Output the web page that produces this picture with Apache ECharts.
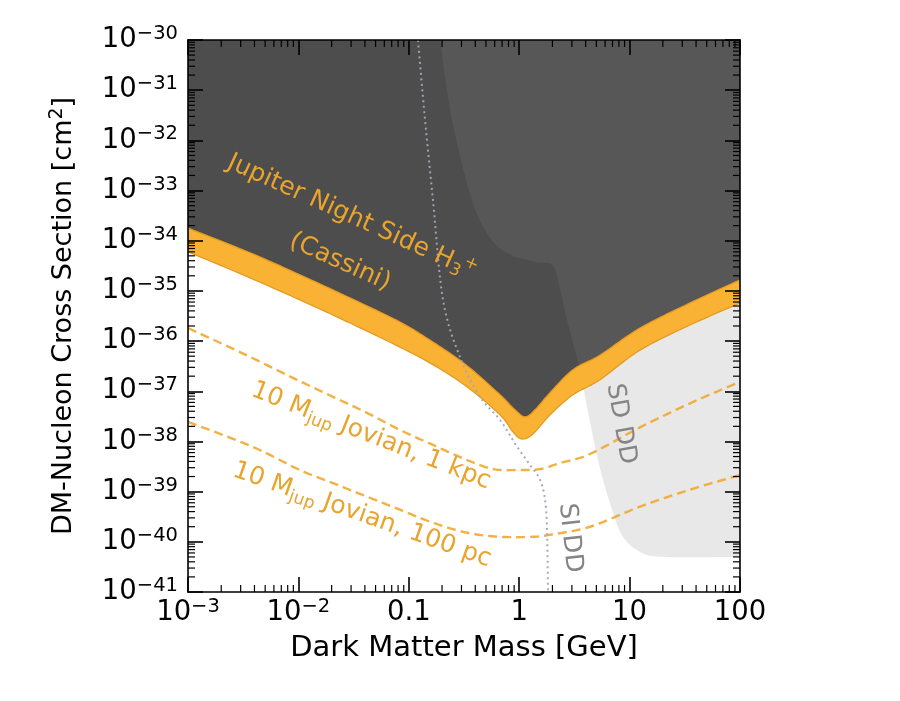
<!DOCTYPE html>
<html>
<head>
<meta charset="utf-8">
<script src="https://cdn.jsdelivr.net/npm/echarts@6/dist/echarts.min.js"></script>
<style>
html,body{margin:0;padding:0;background:#ffffff;}
#chart{width:900px;height:701px;}
</style>
</head>
<body>
<div id="chart"></div>
<script>
// ---- Data (log10 of dark matter mass [GeV], log10 of cross section [cm^2]) ----
const xTickValues = [-3, -2, -1, 0, 1, 2];
const xTickLabels = ['{b|10}{s|−3}', '{b|10}{s|−2}', '{b|0.1}', '{b|1}', '{b|10}', '{b|100}'];
const yTickValues = [-41, -40, -39, -38, -37, -36, -35, -34, -33, -32, -31, -30];
const yTickLabels = ['{b|10}{s|−41}', '{b|10}{s|−40}', '{b|10}{s|−39}', '{b|10}{s|−38}', '{b|10}{s|−37}', '{b|10}{s|−36}',
                     '{b|10}{s|−35}', '{b|10}{s|−34}', '{b|10}{s|−33}', '{b|10}{s|−32}', '{b|10}{s|−31}', '{b|10}{s|−30}'];
const minorFactors = [2, 3, 4, 5, 6, 7, 8, 9];

// Jupiter night side H3+ (Cassini) band: upper and lower edges
const jupUpperLogM = [-3.000, -2.438, -1.986, -1.533, -1.080, -0.781, -0.473, -0.174, -0.038, 0.053, 0.143, 0.279, 0.487, 0.732, 1.094, 1.547, 2.000];
const jupUpperLogS = [-33.75, -34.24, -34.68, -35.14, -35.62, -36.02, -36.49, -37.07, -37.37, -37.51, -37.37, -37.03, -36.57, -36.28, -35.74, -35.24, -34.78];
const jupLowerLogM = [-3.000, -2.438, -1.986, -1.533, -1.080, -0.781, -0.473, -0.174, -0.056, 0.025, 0.125, 0.279, 0.487, 0.732, 1.094, 1.547, 2.000];
const jupLowerLogS = [-34.22, -34.74, -35.18, -35.64, -36.12, -36.47, -36.91, -37.47, -37.81, -37.95, -37.85, -37.47, -37.07, -36.77, -36.18, -35.68, -35.24];

// 10 M_jup Jovian, 1 kpc (dashed)
const kpcLogM = [-3.000, -2.500, -1.986, -1.687, -1.379, -1.080, -0.781, -0.473, -0.237, -0.020, 0.188, 0.370, 0.641, 1.094, 1.547, 2.000];
const kpcLogS = [-35.74, -36.25, -36.80, -37.11, -37.43, -37.77, -38.07, -38.37, -38.55, -38.57, -38.55, -38.43, -38.25, -37.72, -37.24, -36.81];

// 10 M_jup Jovian, 100 pc (dashed)
const pcLogM = [-3.000, -2.411, -1.986, -1.687, -1.379, -1.080, -0.781, -0.473, -0.174, 0.125, 0.279, 0.641, 1.094, 1.547, 2.000];
const pcLogS = [-37.61, -38.11, -38.57, -38.83, -39.10, -39.36, -39.62, -39.82, -39.90, -39.90, -39.86, -39.70, -39.30, -38.96, -38.67];

// SI direct detection (dotted)
const siLogM = [-0.917, -0.853, -0.781, -0.690, -0.536, -0.355, -0.174, -0.029, 0.098, 0.188, 0.234, 0.252, 0.261];
const siLogS = [-30.00, -31.59, -33.19, -35.18, -36.32, -37.11, -37.57, -38.07, -38.47, -38.76, -39.16, -39.76, -41.00];

// SD direct detection region boundary
const sdLogM = [-0.717, -0.609, -0.428, -0.264, -0.083, 0.143, 0.306, 0.370, 0.433, 0.505, 0.578, 0.714, 0.841, 0.940, 1.094, 1.303, 2.000];
const sdLogS = [-30.00, -31.59, -33.19, -33.94, -34.28, -34.42, -34.50, -34.98, -35.58, -36.18, -36.91, -38.37, -39.36, -39.90, -40.20, -40.30, -40.30];

// ---- Styling ----
const FONT = 'DejaVu Sans';
const X_MIN = -3, X_MAX = 2, Y_MIN = -41, Y_MAX = -30;
const DARK = '#4d4d4d';
const SD_FILL = 'rgba(133,133,133,0.19)';
const BAND = '#f9b233';
const BAND_EDGE = '#e59a1f';
const DASH = 'rgba(240,168,48,0.9)';
const ORANGE_TEXT = '#e9a42e';
const GRAY_TEXT = '#858585';

function pairs(ms, ss) { return ms.map((m, i) => [m, ss[i]]); }

// Catmull-Rom smoothing in pixel space (rendering only)
function spline(pts, n) {
  const out = [];
  for (let i = 0; i < pts.length - 1; i++) {
    const p0 = pts[i - 1] || pts[i], p1 = pts[i], p2 = pts[i + 1], p3 = pts[i + 2] || pts[i + 1];
    for (let k = 0; k < n; k++) {
      const t = k / n, t2 = t * t, t3 = t2 * t;
      const f = (a, b, c, d) => 0.5 * ((2 * b) + (-a + c) * t + (2 * a - 5 * b + 4 * c - d) * t2 + (-a + 3 * b - 3 * c + d) * t3);
      out.push([f(p0[0], p1[0], p2[0], p3[0]), f(p0[1], p1[1], p2[1], p3[1])]);
    }
  }
  out.push(pts[pts.length - 1]);
  return out;
}

function shapeSeries(data, z, makePoints, style) {
  return {
    type: 'custom', coordinateSystem: 'cartesian2d', xAxisIndex: 0, yAxisIndex: 0,
    silent: true, clip: true, z: z, animation: false,
    data: data,
    renderItem: function (params, api) {
      if (params.dataIndex !== 0) return null;
      return { type: 'polygon', shape: { points: makePoints(api) }, style: style };
    }
  };
}

const px = (api, ms, ss) => ms.map((m, i) => api.coord([m, ss[i]]));

const darkSeries = shapeSeries(pairs(jupUpperLogM, jupUpperLogS), 1, function (api) {
  const up = spline(px(api, jupUpperLogM, jupUpperLogS), 12);
  return up.concat([api.coord([X_MAX, Y_MAX]), api.coord([X_MIN, Y_MAX])]);
}, { fill: DARK });

const sdSeries = shapeSeries(pairs(sdLogM, sdLogS), 2, function (api) {
  const b = spline(px(api, sdLogM, sdLogS), 12);
  return b.concat([api.coord([X_MAX, Y_MAX])]);
}, { fill: SD_FILL });

const bandSeries = shapeSeries(pairs(jupLowerLogM, jupLowerLogS), 3, function (api) {
  const up = spline(px(api, jupUpperLogM, jupUpperLogS), 12);
  const lo = spline(px(api, jupLowerLogM, jupLowerLogS), 12).reverse();
  return up.concat(lo);
}, { fill: BAND, stroke: BAND_EDGE, lineWidth: 1.3 });

function curveSeries(ms, ss, z, lineStyle) {
  return {
    type: 'custom', coordinateSystem: 'cartesian2d', xAxisIndex: 0, yAxisIndex: 0,
    silent: true, clip: true, z: z, animation: false,
    data: pairs(ms, ss),
    renderItem: function (params, api) {
      if (params.dataIndex !== 0) return null;
      return { type: 'polyline', shape: { points: spline(px(api, ms, ss), 12) }, style: Object.assign({ fill: null }, lineStyle) };
    }
  };
}

const kpcSeries = curveSeries(kpcLogM, kpcLogS, 5, { stroke: DASH, lineWidth: 2.4, lineDash: [9, 5] });
const pcSeries = curveSeries(pcLogM, pcLogS, 5, { stroke: DASH, lineWidth: 2.4, lineDash: [9, 5] });
const siSeries = curveSeries(siLogM, siLogS, 6, { stroke: 'rgba(160,166,182,0.95)', lineWidth: 2, lineDash: [2, 3.5] });

// Minor ticks at 2..9 x 10^n on all four sides
const xMinor = [];
for (let d = X_MIN; d < X_MAX; d++) minorFactors.forEach(f => xMinor.push(d + Math.log10(f)));
const yMinor = [];
for (let d = Y_MIN; d < Y_MAX; d++) minorFactors.forEach(f => yMinor.push(d + Math.log10(f)));
const MINOR_LEN = 7;

const xMinorSeries = {
  type: 'custom', coordinateSystem: 'cartesian2d', xAxisIndex: 0, yAxisIndex: 0,
  silent: true, clip: false, z: 20, animation: false,
  data: xMinor.map(v => [v, Y_MIN]),
  renderItem: function (params, api) {
    const cs = params.coordSys;
    const x = api.coord([api.value(0), Y_MIN])[0];
    const st = { stroke: '#000', lineWidth: 1.2 };
    return { type: 'group', children: [
      { type: 'line', shape: { x1: x, y1: cs.y + cs.height, x2: x, y2: cs.y + cs.height - MINOR_LEN }, style: st },
      { type: 'line', shape: { x1: x, y1: cs.y, x2: x, y2: cs.y + MINOR_LEN }, style: st }
    ] };
  }
};
const yMinorSeries = {
  type: 'custom', coordinateSystem: 'cartesian2d', xAxisIndex: 0, yAxisIndex: 0,
  silent: true, clip: false, z: 20, animation: false,
  data: yMinor.map(v => [X_MIN, v]),
  renderItem: function (params, api) {
    const cs = params.coordSys;
    const y = api.coord([X_MIN, api.value(1)])[1];
    const st = { stroke: '#000', lineWidth: 1.2 };
    return { type: 'group', children: [
      { type: 'line', shape: { x1: cs.x, y1: y, x2: cs.x + MINOR_LEN, y2: y }, style: st },
      { type: 'line', shape: { x1: cs.x + cs.width, y1: y, x2: cs.x + cs.width - MINOR_LEN, y2: y }, style: st }
    ] };
  }
};

const labelRich = {
  b: { fontSize: 27.5, lineHeight: 32, fontFamily: FONT, color: '#000' },
  s: { fontSize: 19.5, lineHeight: 18, verticalAlign: 'top', fontFamily: FONT, color: '#000' }
};
const axisLineStyle = { show: true, onZero: false, lineStyle: { color: '#000', width: 1.6 } };
const majorTick = { show: true, inside: true, length: 15, lineStyle: { color: '#000', width: 1.6 } };

function xAxisCfg(pos, showLabel) {
  return {
    type: 'value', position: pos, min: X_MIN, max: X_MAX, interval: 1, z: 20,
    axisLine: axisLineStyle, axisTick: majorTick, splitLine: { show: false },
    axisLabel: showLabel ? {
      show: true, margin: 5, fontFamily: FONT, color: '#000',
      formatter: v => xTickLabels[xTickValues.indexOf(Math.round(v))], rich: labelRich
    } : { show: false },
    name: showLabel ? 'Dark Matter Mass [GeV]' : '', nameLocation: 'middle', nameGap: 42,
    nameTextStyle: { fontFamily: FONT, fontSize: 29, color: '#000' }
  };
}
function yAxisCfg(pos, showLabel) {
  return {
    type: 'value', position: pos, min: Y_MIN, max: Y_MAX, interval: 1, z: 20,
    axisLine: axisLineStyle, axisTick: majorTick, splitLine: { show: false },
    axisLabel: showLabel ? {
      show: true, margin: 10, fontFamily: FONT, color: '#000',
      formatter: v => yTickLabels[yTickValues.indexOf(Math.round(v))], rich: labelRich
    } : { show: false },
    name: showLabel ? '{n|DM-Nucleon Cross Section [cm}{s|2}{n|]}' : '', nameLocation: 'middle', nameGap: 108,
    nameTextStyle: {
      fontFamily: FONT, fontSize: 27, color: '#000',
      rich: {
        n: { fontSize: 27, lineHeight: 32, fontFamily: FONT, color: '#000' },
        s: { fontSize: 19, lineHeight: 18, verticalAlign: 'top', fontFamily: FONT, color: '#000' }
      }
    }
  };
}

function annot(x, y, deg, text, rich, fill) {
  return { type: 'text', x: x, y: y, rotation: deg * Math.PI / 180, z: 30, silent: true,
    style: { text: text, rich: rich, fill: fill, align: 'center', verticalAlign: 'middle', font: '25px "DejaVu Sans"' } };
}
const orangeRich = {
  t: { fontSize: 25, lineHeight: 30, fontFamily: FONT, fill: ORANGE_TEXT },
  sub: { fontSize: 17, lineHeight: 16, verticalAlign: 'bottom', fontFamily: FONT, fill: ORANGE_TEXT },
  sup: { fontSize: 17, lineHeight: 16, verticalAlign: 'top', fontFamily: FONT, fill: ORANGE_TEXT }
};
const grayRich = { t: { fontSize: 25, lineHeight: 30, fontFamily: FONT, fill: GRAY_TEXT } };

const option = {
  animation: false,
  backgroundColor: '#ffffff',
  grid: { left: 188, right: 160, top: 40, bottom: 109, containLabel: false, outerBoundsMode: 'none' },
  xAxis: [xAxisCfg('bottom', true), xAxisCfg('top', false)],
  yAxis: [yAxisCfg('left', true), yAxisCfg('right', false)],
  series: [darkSeries, sdSeries, bandSeries, kpcSeries, pcSeries, siSeries, xMinorSeries, yMinorSeries],
  graphic: [
    annot(352, 217, -24.3, '{t|Jupiter Night Side H}{sub|3}{sup|+}', orangeRich, ORANGE_TEXT),
    annot(340, 262, -24.3, '{t|(Cassini)}', orangeRich, ORANGE_TEXT),
    annot(371, 436, -21.5, '{t|10 M}{sub|jup}{t| Jovian, 1 kpc}', orangeRich, ORANGE_TEXT),
    annot(362, 515, -19.5, '{t|10 M}{sub|jup}{t| Jovian, 100 pc}', orangeRich, ORANGE_TEXT),
    annot(621, 424, -80, '{t|SD DD}', grayRich, GRAY_TEXT),
    annot(570, 538, -84, '{t|SI DD}', grayRich, GRAY_TEXT)
  ]
};

const chart = echarts.init(document.getElementById('chart'), null, { renderer: 'canvas' });
chart.setOption(option);
</script>
</body>
</html>
